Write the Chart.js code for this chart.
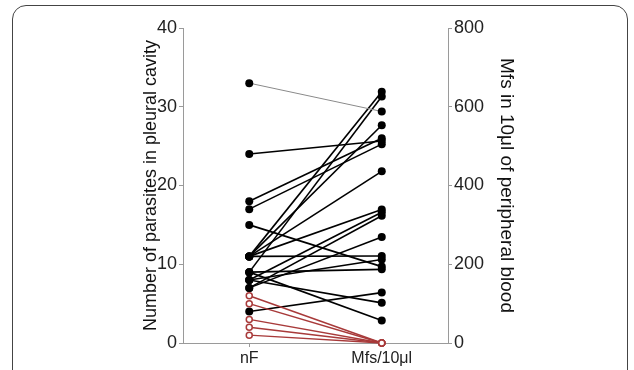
<!DOCTYPE html>
<html>
<head>
<meta charset="utf-8">
<script src="https://cdn.jsdelivr.net/npm/chart.js@4"></script>
<style>
  body { margin: 0; background: #fff; }
  #wrap { position: relative; width: 634px; height: 370px; overflow: hidden; }
  #frame { position: absolute; left: 12px; top: 5px; width: 614px; height: 420px;
           border: 1px solid #444; border-radius: 14px; }
  canvas { position: absolute; left: 0; top: 0; }
</style>
</head>
<body>
<div id="wrap">
  <div id="frame"></div>
  <canvas id="chart" width="634" height="370"></canvas>
</div>
<script>
// Kategori sumbu x
const xLabels = ['nF', 'Mfs/10μl'];

// Pasangan positif (nF -> Mfs per 10 µl)
const nF  = [33, 24, 18, 17, 15, 11, 9, 11, 11, 11, 8, 7, 7, 11, 8, 9, 4, 8, 9];
const mfs = [588, 513, 520, 505, 194, 638, 626, 553, 436, 339, 332, 323, 269, 221, 212, 187, 128, 102, 57];

// Pasangan tanpa mikrofilaria
const nFneg  = [6, 5, 3, 2, 1];
const mfsNeg = [0, 0, 0, 0, 0];

// skala kanan 0-800 vs kiri 0-40
const RATIO = 800 / 40;
const FONT = '"Liberation Sans", Arial, Helvetica, sans-serif';

const datasets = [];
nFneg.forEach((v, i) => {
    datasets.push({
        data: [{x: 0, y: v}, {x: 1, y: mfsNeg[i] / RATIO}],
        borderColor: '#a83a3a',
        borderWidth: 1.5,
        pointRadius: 3,
        pointBorderWidth: 1.5,
        pointBackgroundColor: '#ffffff',
        pointBorderColor: '#a83a3a',
        clip: false
    });
});
nF.forEach((v, i) => {
    const first = i === 0;
    datasets.push({
        data: [{x: 0, y: v}, {x: 1, y: mfs[i] / RATIO}],
        borderColor: first ? '#8a8a8a' : '#000000',
        borderWidth: first ? 1 : 1.6,
        pointRadius: 4,
        pointBorderWidth: 0,
        pointBackgroundColor: '#000000',
        pointBorderColor: '#000000',
        clip: false
    });
});

const axisGrey = '#9a9a9a';

new Chart(document.getElementById('chart'), {
    type: 'line',
    data: { datasets: datasets },
    options: {
        responsive: false,
        animation: false,
        layout: { padding: { left: 139, right: 116, top: 28, bottom: 0 } },
        plugins: { legend: { display: false }, tooltip: { enabled: false } },
        scales: {
            x: {
                type: 'linear',
                min: -0.5,
                max: 1.5,
                afterBuildTicks: s => { s.ticks = [{value: 0}, {value: 1}]; },
                afterFit: s => { s.height = 27; },
                ticks: {
                    callback: v => xLabels[v],
                    color: '#222',
                    font: { family: FONT, size: 16 },
                    padding: 2,
                    maxRotation: 0
                },
                grid: { drawOnChartArea: false, tickLength: 4, color: axisGrey },
                border: { color: axisGrey }
            },
            y: {
                position: 'left',
                min: 0,
                max: 40,
                afterFit: s => { s.width = 44; },
                ticks: {
                    stepSize: 10,
                    color: '#222',
                    font: { family: FONT, size: 18 },
                    padding: 2
                },
                grid: { drawOnChartArea: false, tickLength: 4, color: axisGrey },
                border: { color: axisGrey },
                title: {
                    display: true,
                    text: 'Number of parasites in pleural cavity',
                    color: '#111',
                    font: { family: FONT, size: 18 },
                    padding: { top: 1, bottom: 0 }
                }
            },
            y1: {
                position: 'right',
                min: 0,
                max: 800,
                afterFit: s => { s.width = 70; },
                ticks: {
                    stepSize: 200,
                    color: '#222',
                    font: { family: FONT, size: 18 },
                    padding: 2
                },
                grid: { drawOnChartArea: false, tickLength: 4, color: axisGrey },
                border: { color: axisGrey },
                title: {
                    display: true,
                    text: 'Mfs in 10μl of peripheral blood',
                    color: '#111',
                    font: { family: FONT, size: 19 },
                    padding: 0
                }
            }
        }
    }
});
</script>
</body>
</html>
